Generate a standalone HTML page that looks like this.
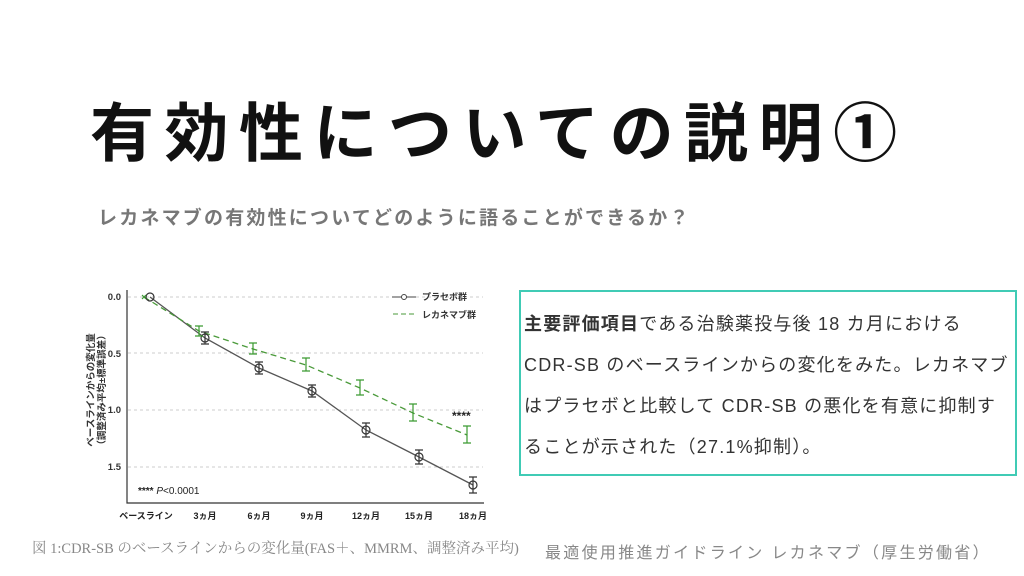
<!DOCTYPE html>
<html><head><meta charset="utf-8"><style>
body{margin:0;width:1024px;height:576px;background:#fff;position:relative;overflow:hidden;font-family:"Liberation Sans","Noto Sans CJK JP",sans-serif}
.t{position:absolute;white-space:nowrap}
</style></head><body>
<div class="t" style="left:90px;top:94px;font-size:64px;font-weight:bold;letter-spacing:10.5px;color:#111;line-height:80px">有効性についての説明①</div>
<div class="t" style="left:98px;top:203px;font-size:19px;font-weight:bold;letter-spacing:2.2px;color:#777">レカネマブの有効性についてどのように語ることができるか？</div>
<div style="position:absolute;left:519px;top:290px;width:494px;height:182px;border:2px solid #40cbb5"></div>
<div class="t" style="left:524px;top:304px;font-size:18px;letter-spacing:1.2px;color:#333;line-height:41px">
<b>主要評価項目</b>である治験薬投与後 18 カ月における<br>CDR-SB のベースラインからの変化をみた。レカネマブ<br>はプラセボと比較して CDR-SB の悪化を有意に抑制す<br>ることが示された（27.1%抑制）。</div>
<svg style="position:absolute;left:0;top:0" width="1024" height="576" font-family="Liberation Sans,Noto Sans CJK JP,sans-serif">
<g stroke="#ccc" stroke-dasharray="3,3">
<line x1="128" y1="297" x2="483" y2="297"/><line x1="128" y1="353" x2="483" y2="353"/><line x1="128" y1="410" x2="483" y2="410"/><line x1="128" y1="467" x2="483" y2="467"/></g>
<polyline points="127,290 127,503 484,503" fill="none" stroke="#333" stroke-width="1.2"/>
<g font-size="9.5" font-weight="bold" fill="#333" text-anchor="end">
<text x="121" y="300">0.0</text><text x="121" y="357">0.5</text><text x="121" y="413">1.0</text><text x="121" y="470">1.5</text></g>
<g font-size="9" font-weight="bold" fill="#222" text-anchor="middle">
<text x="146" y="519">ベースライン</text><text x="205" y="519">3ヵ月</text><text x="259" y="519">6ヵ月</text><text x="312" y="519">9ヵ月</text><text x="366" y="519">12ヵ月</text><text x="419" y="519">15ヵ月</text><text x="473" y="519">18ヵ月</text></g>
<text transform="translate(94,390) rotate(-90)" font-size="9.5" font-weight="bold" fill="#333" text-anchor="middle">ベースラインからの変化量</text>
<text transform="translate(105,390) rotate(-90)" font-size="9.5" font-weight="bold" fill="#333" text-anchor="middle">（調整済み平均±標準誤差）</text>
<polyline points="150,297 205,338 259,368 312,391 366,430 419,457 473,485" fill="none" stroke="#555" stroke-width="1.3"/>
<polyline points="144,297 199,331 253,349 306,365 360,388 413,413 467,435" fill="none" stroke="#4a9a3a" stroke-width="1.3" stroke-dasharray="6,4"/>
<g stroke="#333" fill="none" stroke-width="1.2">
<path d="M205,332v12M201,332h8M201,344h8M259,362v12M255,362h8M255,374h8M312,385v12M308,385h8M308,397h8M366,423v14M362,423h8M362,437h8M419,450v14M415,450h8M415,464h8M473,477v16M469,477h8M469,493h8"/>
<circle cx="150" cy="297" r="4"/><circle cx="205" cy="338" r="4"/><circle cx="259" cy="368" r="4"/><circle cx="312" cy="391" r="4"/><circle cx="366" cy="430" r="4"/><circle cx="419" cy="457" r="4"/><circle cx="473" cy="485" r="4"/></g>
<g stroke="#3a9a30" fill="none" stroke-width="1.2">
<path d="M199,326v10M195,326h8M195,336h8M253,343v11M249,343h8M249,354h8M306,358v13M302,358h8M302,371h8M360,380v15M356,380h8M356,395h8M413,404v17M409,404h8M409,421h8M467,426v17M463,426h8M463,443h8"/>
<path d="M142,295l4,4M146,295l-4,4"/></g>
<line x1="392" y1="297" x2="416" y2="297" stroke="#444"/><circle cx="404" cy="297" r="2.5" fill="#fff" stroke="#444"/>
<text x="422" y="300" font-size="9" font-weight="bold" fill="#333">プラセボ群</text>
<line x1="393" y1="314" x2="416" y2="314" stroke="#4a9a3a" stroke-dasharray="5,3"/>
<text x="422" y="318" font-size="9" font-weight="bold" fill="#333">レカネマブ群</text>
<text x="452" y="420" font-size="12" font-weight="bold" fill="#222">****</text>
<text x="138" y="494" font-size="10" fill="#222"><tspan font-weight="bold">****</tspan>  <tspan font-style="italic">P</tspan>&lt;0.0001</text>
</svg>
<div class="t" style="left:32px;top:537px;font-size:14.5px;color:#888;font-family:'Liberation Serif','Noto Serif CJK SC',serif">図 1:CDR-SB のベースラインからの変化量(FAS＋、MMRM、調整済み平均)</div>
<div class="t" style="left:545px;top:539px;font-size:16px;letter-spacing:2.3px;color:#888">最適使用推進ガイドライン レカネマブ（厚生労働省）</div>
</body></html>
